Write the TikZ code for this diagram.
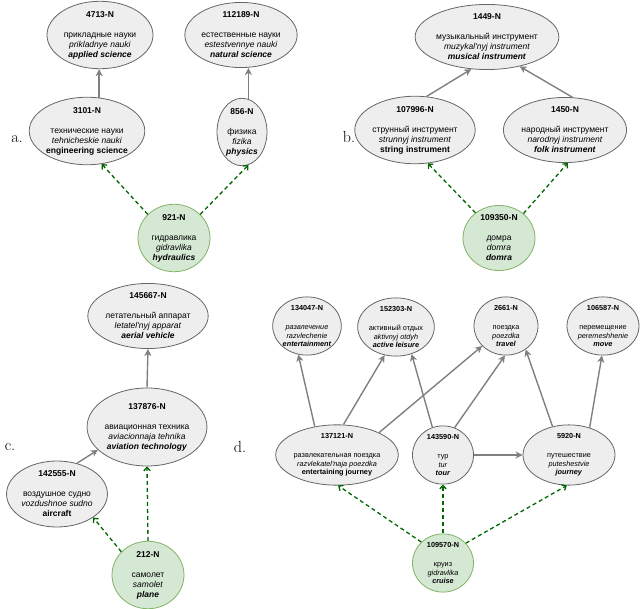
\documentclass[tikz,border=0pt]{standalone}
\usepackage{fontspec}
\newfontfamily\arial{Liberation Sans}
\usetikzlibrary{arrows.meta,shapes.geometric}
\definecolor{nfill}{HTML}{EEEEEE}
\definecolor{ndraw}{HTML}{666666}
\definecolor{gfill}{HTML}{D5E8D4}
\definecolor{gdraw}{HTML}{82B366}
\definecolor{garr}{HTML}{808080}
\definecolor{darr}{HTML}{006600}
\newcommand\nlab[4]{\textbf{#1}\\[10pt]#2\\\textit{#3}\\#4}
\newcommand\slab[4]{\textbf{#1}\\[10.5pt]#2\\\textit{#3}\\#4}
\newcommand\bi[1]{\textbf{\textit{#1}}}
\begin{document}
\begin{tikzpicture}[x=1pt,y=-1pt,
  base/.style={ellipse,inner sep=0pt,align=center,line width=0.8pt,
     font=\arial\fontsize{8.5}{10}\selectfont},
  gnode/.style={base,draw=ndraw,fill=nfill},
  grnode/.style={base,draw=gdraw,fill=gfill},
  small/.style={font=\arial\fontsize{7.3}{8.5}\selectfont},
  isa/.style={draw=garr,line width=1.4pt,-{Stealth[length=7pt,width=7pt,inset=2pt]}},
  lnk/.style={draw=darr,line width=1.3pt,dash pattern=on 4pt off 3pt,
     -{Straight Barb[length=3.5pt,width=6.5pt]}},
  plabel/.style={anchor=base,font=\fontsize{16}{18}\selectfont}]
\useasboundingbox (0,0) rectangle (640,609);

% ---------- a ----------
\node[gnode,minimum width=106pt,minimum height=60pt] (n4713) at (100,35)
  {\nlab{4713-N}{прикладные науки}{prikladnye nauki}{\bi{applied science}}};
\node[gnode,minimum width=104pt,minimum height=60pt] (n112189) at (241,35)
  {\nlab{112189-N}{естественные науки}{estestvennye nauki}{\bi{natural science}}};
\node[gnode,minimum width=110pt,minimum height=63pt] (n3101) at (87,131)
  {\nlab{3101-N}{технические науки}{tehnicheskie nauki}{\textbf{engineering science}}};
\node[gnode,minimum width=50pt,minimum height=62pt] (n856) at (242,132)
  {\nlab{856-N}{физика}{fizika}{\bi{physics}}};
\node[grnode,minimum width=72pt,minimum height=63pt] (n921) at (174,238)
  {\nlab{921-N}{гидравлика}{gidravlika}{\bi{hydraulics}}};
\node[plabel] (la) at (17,143) {a.};

\draw[isa] (n3101.70) -- (n3101.70 |- n4713.south);
\draw[isa] (n856.79) -- (n856.79 |- n112189.south);
\draw[lnk] (n921.138) -- (n3101.-66);
\draw[lnk] (n921.42) -- (n856.-79);

% ---------- b ----------
\node[gnode,minimum width=130pt,minimum height=63pt] (n1449) at (487,37)
  {\nlab{1449-N}{музыкальный инструмент}{muzykal'nyj instrument}{\bi{musical instrument}}};
\node[gnode,minimum width=104pt,minimum height=62pt] (n107996) at (415,130)
  {\nlab{107996-N}{струнный инструмент}{strunnyj instrument}{\textbf{string instrument}}};
\node[gnode,minimum width=92pt,minimum height=62pt] (n1450) at (565,130)
  {\nlab{1450-N}{народный инструмент}{narodnyj instrument}{\bi{folk instrument}}};
\node[grnode,minimum width=72pt,minimum height=64pt] (n109350) at (499,238)
  {\nlab{109350-N}{домра}{domra}{\bi{domra}}};
\node[plabel] (lb) at (349,143) {b.};

\draw[isa] (n107996.71) -- (n1449.-116);
\draw[isa] (n1450.77) -- (n1449.-42);
\draw[lnk] (n109350.133) -- (n107996.-69);
\draw[lnk] (n109350.45) -- (n1450.-85);

% ---------- c ----------
\node[gnode,minimum width=100pt,minimum height=58pt] (n145667) at (148,316)
  {\nlab{145667-N}{летательный аппарат}{letatel'nyj apparat}{\bi{aerial vehicle}}};
\node[gnode,minimum width=100pt,minimum height=78pt] (n137876) at (147,427)
  {\nlab{137876-N}{авиационная техника}{aviacionnaja tehnika}{\bi{aviation technology}}};
\node[gnode,minimum width=88pt,minimum height=66pt] (n142555) at (57,494)
  {\nlab{142555-N}{воздушное судно}{vozdushnoe sudno}{\textbf{aircraft}}};
\node[grnode,minimum width=72pt,minimum height=64pt] (n212) at (148,575)
  {\nlab{212-N}{самолет}{samolet}{\bi{plane}}};
\node[plabel] (lc) at (10,450) {c.};

\draw[isa] (n137876.north) -- (n145667.south);
\draw[isa] (n142555.57) -- (n137876.205);
\draw[lnk] (n212.north) -- (n137876.south);
\draw[lnk] (n212.139) -- (n142555.-33);

% ---------- d ----------
\node[gnode,small,minimum width=68pt,minimum height=56pt] (n134047) at (307,326)
  {\slab{134047-N}{\textit{развлечение}}{razvlechenie}{\bi{entertainment}}};
\node[gnode,small,minimum width=64pt,minimum height=56pt] (n152303) at (396,327)
  {\slab{152303-N}{активный отдых}{aktivnyj otdyh}{\bi{active leisure}}};
\node[gnode,small,minimum width=64pt,minimum height=56pt] (n2661) at (506,326)
  {\slab{2661-N}{поездка}{poezdka}{\bi{travel}}};
\node[gnode,small,minimum width=72pt,minimum height=56pt] (n106587) at (603,326)
  {\slab{106587-N}{перемещение}{peremeshhenie}{\bi{move}}};
\node[gnode,small,minimum width=116pt,minimum height=56pt] (n137121) at (337,455)
  {\slab{137121-N}{развлекательная поездка}{razvlekatel'naja poezdka}{\textbf{entertaining journey}}};
\node[gnode,small,minimum width=61pt,minimum height=56pt] (n143590) at (443,455)
  {\slab{143590-N}{тур}{tur}{\bi{tour}}};
\node[gnode,small,minimum width=92pt,minimum height=56pt] (n5920) at (569,455)
  {\slab{5920-N}{путешествие}{puteshestvie}{\bi{journey}}};
\node[grnode,small,minimum width=61pt,minimum height=58pt] (n109570) at (443,563)
  {\slab{109570-N}{круиз}{gidravlika}{\bi{cruise}}};
\node[plabel] (ld) at (240,453) {d.};

\draw[isa] (n137121.128) -- (n134047.-107);
\draw[isa] (n137121.78) -- (n152303.-112);
\draw[isa] (n137121.28) -- (n2661.-140);
\draw[isa] (n143590.111) -- (n152303.-60);
\draw[isa] (n143590.67) -- (n2661.-92);
\draw[isa] (n5920.120) -- (n2661.-50);
\draw[isa] (n5920.53) -- (n106587.-92);
\draw[isa] (n143590.east) -- (n5920.west);
\draw[lnk] (n109570.136) -- (n137121.-88);
\draw[lnk] (n109570.north) -- (n143590.south);
\draw[lnk] (n109570.41) -- (n5920.-94);
\end{tikzpicture}
\end{document}
